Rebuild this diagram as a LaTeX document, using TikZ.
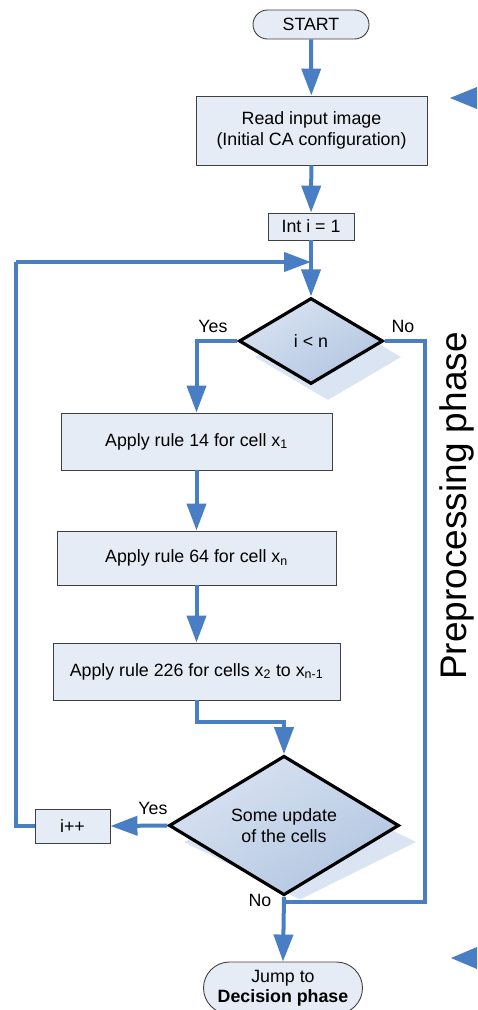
\documentclass[tikz,border=0pt]{standalone}
\usepackage{fontspec}
\setmainfont{Liberation Sans}
\usetikzlibrary{arrows.meta,shapes.geometric,shapes.misc,calc,shadings}
\definecolor{flow}{HTML}{4A7EC4}
\definecolor{boxfill}{HTML}{E6ECF6}
\definecolor{shadowfill}{HTML}{DAE4F3}
\definecolor{dUL}{HTML}{E0E8F4}
\definecolor{dLR}{HTML}{AABFDD}
\definecolor{dMid}{HTML}{C6D5EA}
\newcommand{\fsmain}{\fontsize{17.8}{20.5}\selectfont}
\begin{document}
\begin{tikzpicture}[x=1pt,y=-1pt,
  every node/.style={font=\fsmain, inner sep=0pt, align=center},
  box/.style={draw=black!75, line width=0.9pt, fill=boxfill, rectangle},
  term/.style={draw=black!75, line width=0.9pt, fill=boxfill, rounded rectangle},
  dec/.style={diamond, draw=black, line width=3.2pt, upper left=dUL, lower right=dLR, upper right=dMid, lower left=dMid},
  decshadow/.style={diamond, fill=shadowfill, draw=none},
  link/.style={draw=flow, line width=4pt},
  arr/.style={link, -{Triangle[length=27pt,width=19pt]}},
  lbl/.style={font=\fsmain}
]
\useasboundingbox (0,0) rectangle (477,1010);

% terminals and boxes
\node[term, minimum width=116pt, minimum height=29pt] (start) at (311,24.5) {START};
\node[box, minimum width=231pt, minimum height=69pt] (read) at (311.5,130.5) {Read input image\\(Initial CA configuration)};
\node[box, minimum width=86pt, minimum height=27pt] (init) at (311,226.5) {Int i = 1};

\node[decshadow, minimum width=146pt, minimum height=86pt] (d1s) at (328,357) {};
\node[dec, minimum width=144pt, minimum height=86pt] (d1) at (311,341) {i {\textless} n};

\node[box, minimum width=271pt, minimum height=57pt] (a14) at (196.5,441.5) {Apply rule 14 for cell x\textsubscript{1}};
\node[box, minimum width=279pt, minimum height=54pt] (a64) at (196.5,558) {Apply rule 64 for cell x\textsubscript{n}};
\node[box, minimum width=287pt, minimum height=57pt] (a226) at (196.5,671.5) {Apply rule 226 for cells x\textsubscript{2} to x\textsubscript{n-1}};

\node[decshadow, minimum width=232pt, minimum height=115pt] (d2s) at (300,842) {};
\node[dec, minimum width=230pt, minimum height=115pt] (d2) at (284,825.5) {Some update\\of the cells};

\node[box, minimum width=75pt, minimum height=34pt] (inc) at (72.5,826) {i++};
\node[term, minimum width=159pt, minimum height=52pt] (jump) at (283,988) {Jump to\\\textbf{Decision phase}};

% helper coordinates
\coordinate (loopin) at (311,262);
\coordinate (loopcorner) at (16,262);
\coordinate (noR) at (425,902);
\coordinate (nojoin) at (284,902);

% connectors
\draw[arr] (start) -- (read);
\draw[arr] (read) -- (init);
\draw[arr] (init) -- (d1.north);
\draw[link] (inc.west) -| (loopcorner);
\draw[arr] (loopcorner) -- (loopin);
\draw[arr] (d1.west) -| (a14.north);
\draw[link] (d1.east) -| (noR) -- (nojoin);
\draw[arr] (a14) -- (a64);
\draw[arr] (a64) -- (a226);
\draw[arr] (a226.south) -- ++(0,22) -| (d2.north);
\draw[arr] (d2.west) -- (inc.east);
\draw[arr] (d2.south) -- (jump.north);

% labels
\node[lbl] (y1) at (213,326) {Yes};
\node[lbl] (n1) at (403,326) {No};
\node[lbl] (y2) at (153,808) {Yes};
\node[lbl] (n2) at (260,900) {No};

\node[rotate=90, font=\fontsize{37}{40}\selectfont] (phase) at (457,506) {Preprocessing phase};

% side arrowheads
\fill[flow] (450,98) -- (477,87) -- (477,109) -- cycle;
\fill[flow] (451,958) -- (477,947) -- (477,969) -- cycle;
\end{tikzpicture}
\end{document}
